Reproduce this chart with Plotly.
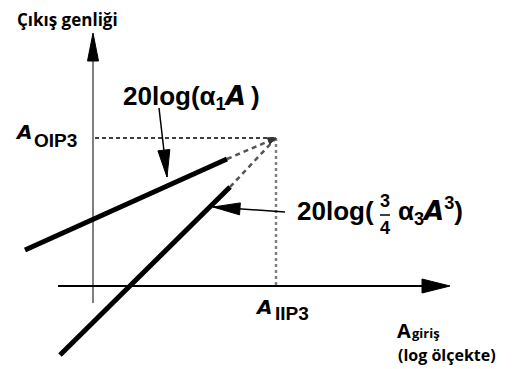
import math
import plotly.graph_objects as go

# Diagram coordinates: origin where the two axes cross, one unit = one pixel.
X_RANGE = [-93, 419]
Y_RANGE = [-83, 286]

# Third-order intercept point (A_IIP3, A_OIP3)
ip3_x, ip3_y = 183, 148

# Fundamental (slope ~1 in dB) : solid part and dashed extrapolation
lin_x = [-68, 134]
lin_y = [36, 127]

# Third-order product (slope ~3 in dB) : solid part and dashed extrapolation
cub_x = [-33, 137]
cub_y = [-69, 99]

# Axes extents
xaxis_span = [-35, 357]
yaxis_span = [-17, 253]

# Pointer arrows (tail -> tip)
ptr1_tail, ptr1_tip = (66, 178), (74, 109)
ptr2_tail, ptr2_tip = (192, 74), (120, 79)

BLACK = "#000000"
GRAY = "#808080"
FORMULA_FONT = "Liberation Sans"
LABEL_FONT = "Open Sans"
ITALIC_A = '<span style="font-family:DejaVu Sans"><b><i>A</i></b></span>'


def head(tip, tail, length, width):
    """Filled triangular arrow head pointing from tail toward tip."""
    dx, dy = tip[0] - tail[0], tip[1] - tail[1]
    n = math.hypot(dx, dy)
    ux, uy = dx / n, dy / n
    bx, by = tip[0] - ux * length, tip[1] - uy * length
    px, py = -uy * width / 2, ux * width / 2
    return [tip[0], bx + px, bx - px, tip[0]], [tip[1], by + py, by - py, tip[1]]


fig = go.Figure()


def line(xs, ys, color, width, dash="solid"):
    fig.add_trace(go.Scatter(x=xs, y=ys, mode="lines",
                             line=dict(color=color, width=width, dash=dash),
                             hoverinfo="skip", showlegend=False))


def tri(xs, ys, color=BLACK):
    fig.add_trace(go.Scatter(x=xs, y=ys, mode="lines", fill="toself",
                             fillcolor=color, line=dict(color=color, width=1),
                             hoverinfo="skip", showlegend=False))


# axes
line([0, 0], [yaxis_span[0], yaxis_span[1] - 20], GRAY, 2)
tri(*head((0, yaxis_span[1]), (0, 0), 28, 11))
line([xaxis_span[0], xaxis_span[1] - 20], [0, 0], BLACK, 2)
tri(*head((xaxis_span[1], 0), (0, 0), 28, 14))

# intercept guides
line([2, ip3_x], [ip3_y, ip3_y], BLACK, 1.5, "4px,3px")
line([ip3_x, ip3_x], [ip3_y, 0], GRAY, 2.5, "3px,3px")

# dashed extrapolations to the intercept
line([lin_x[1], ip3_x], [lin_y[1], ip3_y], "#555555", 2.5, "5px,4px")
line([cub_x[1], ip3_x], [cub_y[1], ip3_y], "#555555", 2.5, "5px,4px")
tri(*head((ip3_x, ip3_y), (ip3_x - 10, ip3_y - 4), 8, 7), "#333333")

# solid characteristics
line(lin_x, lin_y, BLACK, 5)
line(cub_x, cub_y, BLACK, 5)

# pointer arrows
for tail, tip in [(ptr1_tail, ptr1_tip), (ptr2_tail, ptr2_tip)]:
    line([tail[0], tip[0]], [tail[1], tip[1]], BLACK, 1.5)
    tri(*head(tip, tail, 27, 12))


def text(x, y, s, size, family=FORMULA_FONT, xanchor="left", yanchor="middle"):
    fig.add_annotation(x=x, y=y, text=s, showarrow=False, xanchor=xanchor,
                       yanchor=yanchor, borderpad=0,
                       font=dict(family=family, size=size, color=BLACK,
                                 weight="bold"))


# axis titles
text(-77, 267, "Çıkış genliği", 17, LABEL_FONT)
text(303, -44, "A", 20, LABEL_FONT)
text(318, -47, "giriş", 13, LABEL_FONT)
text(304, -69, "(log ölçekte)", 16, LABEL_FONT)

# intercept labels
text(-79, 154, ITALIC_A, 20)
text(-60, 146, "OIP3", 19)
text(161, -21, ITALIC_A, 20)
text(181, -27, "IIP3", 19)

# formula for the fundamental
text(29, 189, f"20log(α<sub>1</sub>{ITALIC_A}\u2009)", 26)

# formula for the third-order term
text(203, 75, "20log(", 26)
text(292, 85, "3", 18, xanchor="center")
text(292, 58, "4", 18, xanchor="center")
line([287, 297], [71, 71], BLACK, 1.5)
text(304, 75, f"α<sub>3</sub>{ITALIC_A}<sup>3</sup>)", 26)

fig.update_layout(
    width=512, height=369, margin=dict(l=0, r=0, t=0, b=0),
    paper_bgcolor="white", plot_bgcolor="white",
    xaxis=dict(range=X_RANGE, visible=False, fixedrange=True),
    yaxis=dict(range=Y_RANGE, visible=False, fixedrange=True),
    showlegend=False,
)

fig.write_html("out.html")
